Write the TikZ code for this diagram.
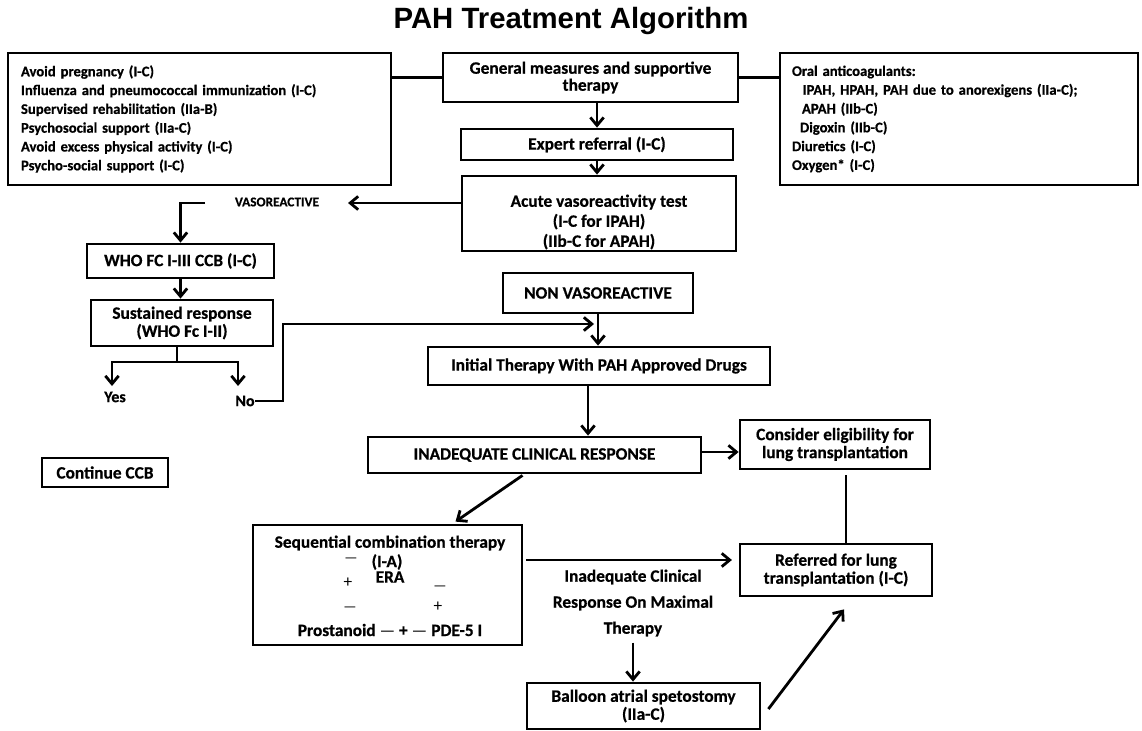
\documentclass[tikz,border=0pt]{standalone}
\usepackage{fontspec}
\setmainfont{Carlito}[BoldFont={Carlito Bold}, BoldFeatures={FakeBold=0.6}]
\newfontfamily\pahtitlefont{Liberation Sans}
\usetikzlibrary{arrows.meta,calc}
\newcommand\pahboxfont{\bfseries\fontsize{13}{13.5}\selectfont}
\newcommand\pahlistfont{\bfseries\fontsize{11}{14.1}\selectfont}
\newcommand\mybox[7][]{\node[box,#1,minimum width={(#5-#3)*0.75pt},minimum height={(#6-#4)*0.75pt}] (#2) at ({(#3+#5)/2},{(#4+#6)/2}) {#7};}
\begin{document}
\begin{tikzpicture}[x=0.75pt,y=-0.75pt,
  lw/.style={line width=2.1pt},
  box/.style={draw, lw, inner sep=0pt, align=center, font=\pahboxfont},
  arr/.style={lw, -{Straight Barb[length=6pt,width=10pt]}},
  conn/.style={lw},
  txt/.style={inner sep=0pt, align=center, font=\pahboxfont},
  dsh/.style={inner sep=0pt, text height=4.5pt, text depth=0pt, font=\fontsize{11}{11}\selectfont},
  pls/.style={inner sep=0pt, font=\fontsize{13}{13}\selectfont}]
\useasboundingbox (0,0) rectangle (1142,731);

\node[font=\pahtitlefont\bfseries\fontsize{22}{26}\selectfont] (title) at (571,21) {PAH Treatment Algorithm};

\mybox[align=left, text width=267.75pt, inner xsep=9.75pt, font=\pahlistfont]{left}{8}{53}{391}{185}{Avoid pregnancy (I-C)\\ Influenza and pneumococcal immunization (I-C)\\ Supervised rehabilitation (IIa-B)\\ Psychosocial support (IIa-C)\\ Avoid excess physical activity (I-C)\\ Psycho-social support (I-C)}
\mybox[align=left, text width=250.5pt, inner xsep=9pt, font=\pahlistfont]{right}{780}{53}{1138}{185}{Oral anticoagulants:\\ \hspace*{8pt}IPAH, HPAH, PAH due to anorexigens (IIa-C);\\ \hspace*{7.5pt}APAH (IIb-C)\\ \hspace*{6pt}Digoxin (IIb-C)\\ Diuretics (I-C)\\ Oxygen* (I-C)}

\mybox[font=\bfseries\fontsize{13}{12.75}\selectfont]{gen}{443}{53}{738}{102}{General measures and supportive\\therapy}
\mybox{expert}{461}{129}{733}{160}{Expert referral (I-C)}
\node[txt, font=\bfseries\fontsize{13}{15}\selectfont] (acutetxt) at (599,222) {Acute vasoreactivity test\\(I-C for IPAH)\\(IIb-C for APAH)};
\mybox{acute}{462}{176}{736}{251}{}
\mybox{nv}{503}{273}{693}{313}{NON VASOREACTIVE}

\node[txt, font=\bfseries\fontsize{10}{12}\selectfont] (vaso) at (277,202) {VASOREACTIVE};
\coordinate (vtip) at (348,203);
\coordinate (vstart) at (205,203);
\mybox{who}{87}{244}{274}{278}{WHO FC I-III CCB (I-C)}
\mybox{sus}{91}{300}{273}{346}{Sustained response\\(WHO Fc I-II)}
\coordinate (split) at (177,362);
\coordinate (yestip) at (112,386);
\coordinate (notip0) at (238,386);
\node[txt, font=\bfseries\fontsize{12}{12}\selectfont] (yes) at (115,397) {Yes};
\node[txt, font=\bfseries\fontsize{12}{12}\selectfont] (no) at (245,401) {No};
\coordinate (nobend) at (283,324);
\coordinate (notip) at (594,324);
\mybox{ccb}{42}{458}{168}{487}{Continue CCB}

\mybox{init}{428}{347}{770}{385}{Initial Therapy With PAH Approved Drugs}
\mybox{inad}{368}{437}{701}{473}{INADEQUATE CLINICAL RESPONSE}
\mybox{consider}{740}{420}{930}{469}{Consider eligibility for\\lung transplantation}
\mybox{referred}{740}{544}{932}{596}{Referred for lung\\transplantation (I-C)}

\mybox{seq}{253}{525}{522}{645}{}
\node[txt] (seqtitle) at (390,543) {Sequential combination therapy};
\node[dsh] (d1) at (351,559) {—};
\node[txt] (ia) at (387,562) {(I-A)};
\node[pls] (p1) at (348,583) {+};
\node[txt] (era) at (390,577) {ERA};
\node[dsh] (d2) at (440,587) {—};
\node[dsh] (d3) at (350,608) {—};
\node[pls] (p2) at (438,607) {+};
\node[txt] (pros) at (390,630) {Prostanoid {\mdseries —} + {\mdseries —} PDE-5 I};

\node[txt, font=\bfseries\fontsize{13}{19.5}\selectfont] (imax) at (633,603) {Inadequate Clinical\\Response On Maximal\\Therapy};
\mybox{balloon}{527}{683}{760}{729}{Balloon atrial spetostomy\\(IIa-C)}

% helper points
\coordinate (initout) at ($(init.south)+(-11,0)$);
\coordinate (inadout) at ($(inad.east)+(0,-3)$);
\coordinate (consout) at ($(consider.south)+(11,5)$);
\coordinate (seqout) at ($(seq.east)+(3,-25)$);
\coordinate (seqin) at ($(seq.north)+(68,-2)$);
\coordinate (inadlow) at ($(inad.south)+(-12,1)$);
\coordinate (imaxout) at ($(imax.south)+(0,6)$);
\coordinate (ballout) at ($(balloon.east)+(7,3)$);
\coordinate (refin) at ($(referred.south)+(8,12)$);

% connectors
\draw[conn] (gen.west) -- (gen.west -| left.east);
\draw[conn] (gen.east) -- (gen.east -| right.west);
\draw[arr] (expert.north |- gen.south) -- (expert.north);
\draw[arr] (expert.south) -- (expert.south |- acute.north);
\draw[arr] (acute.west |- vtip) -- (vtip);
\draw[arr] (vstart) -| (who.north);
\draw[arr] (who.south) -- (who.south |- sus.north);
\draw[conn] (sus.south -| split) -- (split);
\draw[arr] (split) -| (yestip);
\draw[arr] (split) -| (notip0);
\draw[arr] (no.east) -| (nobend) -- (notip);
\draw[arr] (nv.south) -- (nv.south |- init.north);
\draw[arr] (initout) -- (initout |- inad.north);
\draw[arr] (inadout) -- (inadout -| consider.west);
\draw[conn] (consout) -- (consout |- referred.north);
\draw[arr] (inadlow) -- (seqin);
\draw[arr, shorten >=5pt] (seqout) -- (seqout -| referred.west);
\draw[arr] (imaxout) -- (imaxout |- balloon.north);
\draw[arr] (ballout) -- (refin);
\end{tikzpicture}
\end{document}
